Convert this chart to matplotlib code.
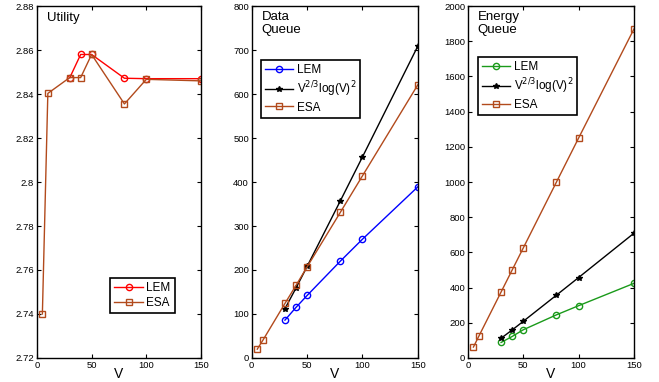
import matplotlib
matplotlib.use("Agg")
from matplotlib import pyplot as plt

# data
v_esa = [5, 10, 30, 40, 50, 80, 100, 150]
v_lem = [30, 40, 50, 80, 100, 150]

util_lem = [2.8474, 2.858, 2.858, 2.8472, 2.847, 2.847]
util_esa = [2.740, 2.8403, 2.8475, 2.8475, 2.858, 2.8355, 2.8467, 2.846]

dq_lem = [86, 115, 142, 220, 270, 389]
dq_bound = [112, 159, 208, 357, 457, 709]
dq_esa = [20, 40, 124, 165, 207, 331, 414, 621]

eq_lem = [88, 122, 160, 245, 297, 424]
eq_bound = [112, 159, 208, 357, 457, 709]
eq_esa = [62, 125, 375, 500, 625, 1000, 1250, 1870]

brown = '#b24a1c'
bound_label = r'V$^{2/3}$log(V)$^2$'

plt.rcParams['font.family'] = ['Liberation Sans', 'DejaVu Sans']
fig = plt.figure(figsize=(6.59, 3.82), dpi=100)

bot, h = 0.063, 0.921
ax1 = fig.add_axes([0.056, bot, 0.249, h])
ax2 = fig.add_axes([0.382, bot, 0.252, h])
ax3 = fig.add_axes([0.710, bot, 0.252, h])

mk = dict(markersize=4.5, markerfacecolor='none', linewidth=1)
leg_kw = dict(fontsize=8.5, handlelength=2.4, borderpad=0.35,
              labelspacing=0.25, handletextpad=0.3, borderaxespad=0)

ax1.plot(v_lem, util_lem, color='red', marker='o', label='LEM', **mk)
ax1.plot(v_esa, util_esa, color=brown, marker='s', label='ESA', **mk)
ax1.set_ylim(2.72, 2.88)
ax1.set_yticks([2.72, 2.74, 2.76, 2.78, 2.8, 2.82, 2.84, 2.86, 2.88])
ax1.set_yticklabels(['2.72', '2.74', '2.76', '2.78', '2.8', '2.82', '2.84', '2.86', '2.88'])
ax1.text(0.06, 0.982, 'Utility', transform=ax1.transAxes, fontsize=9.5, va='top')
ax1.legend(loc='lower right', bbox_to_anchor=(0.84, 0.128), **leg_kw)

ax2.plot(v_lem, dq_lem, color='blue', marker='o', label='LEM', **mk)
ax2.plot(v_lem, dq_bound, color='black', marker='*', markersize=4, linewidth=1,
         label=bound_label)
ax2.plot(v_esa, dq_esa, color=brown, marker='s', label='ESA', **mk)
ax2.set_ylim(0, 800)
ax2.set_yticks(range(0, 801, 100))
ax2.text(0.06, 0.985, 'Data\nQueue', transform=ax2.transAxes, fontsize=9.5,
         va='top', linespacing=1.1)
ax2.legend(loc='upper left', bbox_to_anchor=(0.054, 0.847), **leg_kw)

ax3.plot(v_lem, eq_lem, color='#1a9a1a', marker='o', label='LEM', **mk)
ax3.plot(v_lem, eq_bound, color='black', marker='*', markersize=4, linewidth=1,
         label=bound_label)
ax3.plot(v_esa, eq_esa, color=brown, marker='s', label='ESA', **mk)
ax3.set_ylim(0, 2000)
ax3.set_yticks(range(0, 2001, 200))
ax3.text(0.06, 0.985, 'Energy\nQueue', transform=ax3.transAxes, fontsize=9.5,
         va='top', linespacing=1.1)
ax3.legend(loc='upper left', bbox_to_anchor=(0.06, 0.855), **leg_kw)

for ax in (ax1, ax2, ax3):
    ax.set_xlim(0, 150)
    ax.set_xticks([0, 50, 100, 150])
    ax.set_xlabel('V', fontsize=10, labelpad=-2)
    ax.tick_params(direction='in', top=True, right=True, labelsize=6.8,
                   length=3, width=0.8, pad=2)
    for s in ax.spines.values():
        s.set_linewidth(1.0)
    leg = ax.get_legend()
    leg.get_frame().set_edgecolor('black')
    leg.get_frame().set_linewidth(1.2)
    leg.get_frame().set_boxstyle('square', pad=0)
    leg.get_frame().set_alpha(1)

fig.savefig('out.png', dpi=100)
